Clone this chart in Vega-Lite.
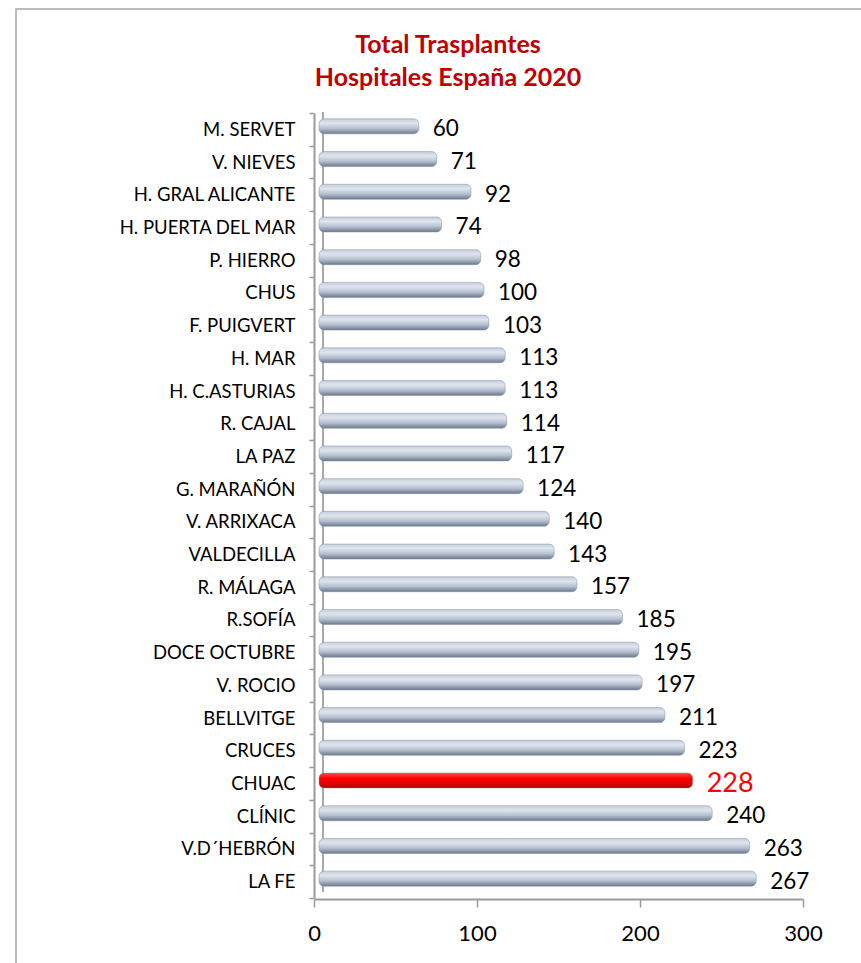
{
  "$schema": "https://vega.github.io/schema/vega-lite/v6.json",
  "autosize": "none",
  "padding": {"left": 16, "top": 9, "right": 0, "bottom": 0},
  "width": 852,
  "height": 962,
  "background": "white",
  "config": {
    "view": {"stroke": "#a6a6a6", "strokeWidth": 1.5},
    "font": "Lato"
  },
  "title": {
    "text": ["Total Trasplantes", "Hospitales España 2020"],
    "color": "#C00000",
    "font": "Lato",
    "fontWeight": "bold",
    "fontSize": 25,
    "lineHeight": 33,
    "anchor": "middle",
    "dx": 6,
    "offset": -91
  },
  "data": {
    "values": [
      {"hospital": "M. SERVET", "total": 60},
      {"hospital": "V. NIEVES", "total": 71},
      {"hospital": "H. GRAL ALICANTE", "total": 92},
      {"hospital": "H. PUERTA DEL MAR", "total": 74},
      {"hospital": "P. HIERRO", "total": 98},
      {"hospital": "CHUS", "total": 100},
      {"hospital": "F. PUIGVERT", "total": 103},
      {"hospital": "H. MAR", "total": 113},
      {"hospital": "H. C.ASTURIAS", "total": 113},
      {"hospital": "R. CAJAL", "total": 114},
      {"hospital": "LA PAZ", "total": 117},
      {"hospital": "G. MARAÑÓN", "total": 124},
      {"hospital": "V. ARRIXACA", "total": 140},
      {"hospital": "VALDECILLA", "total": 143},
      {"hospital": "R. MÁLAGA", "total": 157},
      {"hospital": "R.SOFÍA", "total": 185},
      {"hospital": "DOCE OCTUBRE", "total": 195},
      {"hospital": "V. ROCIO", "total": 197},
      {"hospital": "BELLVITGE", "total": 211},
      {"hospital": "CRUCES", "total": 223},
      {"hospital": "CHUAC", "total": 228},
      {"hospital": "CLÍNIC", "total": 240},
      {"hospital": "V.D´HEBRÓN", "total": 263},
      {"hospital": "LA FE", "total": 267}
    ]
  },
  "encoding": {
    "y": {
      "field": "hospital",
      "type": "nominal",
      "sort": null,
      "scale": {
        "domain": ["M. SERVET", "V. NIEVES", "H. GRAL ALICANTE", "H. PUERTA DEL MAR", "P. HIERRO", "CHUS", "F. PUIGVERT", "H. MAR", "H. C.ASTURIAS", "R. CAJAL", "LA PAZ", "G. MARAÑÓN", "V. ARRIXACA", "VALDECILLA", "R. MÁLAGA", "R.SOFÍA", "DOCE OCTUBRE", "V. ROCIO", "BELLVITGE", "CRUCES", "CHUAC", "CLÍNIC", "V.D´HEBRÓN", "LA FE"],
        "range": [104, 889], "paddingInner": 0, "paddingOuter": 0
      },
      "axis": {
        "title": null,
        "offset": -298,
        "domainColor": "#9a9a9a",
        "domainWidth": 2,
        "tickColor": "#9a9a9a",
        "tickWidth": 1.5,
        "tickSize": 5,
        "tickBand": "extent",
        "labelFont": "Lato",
        "labelFontSize": 18.5,
        "labelColor": "#000000",
        "labelPadding": 14,
        "labelLimit": 300
      }
    },
    "x": {
      "field": "total",
      "type": "quantitative",
      "stack": null,
      "scale": {"domain": [0, 300], "range": [298, 787], "nice": false},
      "axis": {
        "title": null,
        "offset": -72,
        "values": [0, 100, 200, 300],
        "grid": false,
        "labelFlush": false,
        "domainColor": "#9a9a9a",
        "domainWidth": 2,
        "tickColor": "#9a9a9a",
        "tickWidth": 1.5,
        "tickSize": 8,
        "labelFont": "Lato",
        "labelFontSize": 22,
        "labelColor": "#000000",
        "labelPadding": 16
      }
    }
  },
  "layer": [
    {
      "mark": {
        "type": "rule",
        "color": "#a8a8a8",
        "strokeWidth": 1.5,
        "xOffset": 9,
        "yOffset": -1,
        "y2Offset": 10
      },
      "encoding": {
        "x": {"datum": 0, "type": "quantitative"},
        "y": {"datum": "M. SERVET", "type": "nominal", "bandPosition": 0},
        "y2": {"datum": "LA FE"}
      }
    },
    {
      "mark": {
        "type": "bar",
        "height": 15,
        "yOffset": -3,
        "xOffset": 7,
        "x2Offset": 5,
        "cornerRadiusEnd": 5,
        "stroke": "#8090a4",
        "strokeWidth": 0.5
      },
      "encoding": {
        "x2": {"datum": 0},
        "color": {
          "condition": {
            "test": "datum.hospital === 'CHUAC'",
            "value": {
              "gradient": "linear", "x1": 0, "y1": 0, "x2": 0, "y2": 1,
              "stops": [
                {"offset": 0, "color": "#ff4a4a"},
                {"offset": 0.35, "color": "#ff0000"},
                {"offset": 0.75, "color": "#e00000"},
                {"offset": 1, "color": "#a00000"}
              ]
            }
          },
          "value": {
            "gradient": "linear", "x1": 0, "y1": 0, "x2": 0, "y2": 1,
            "stops": [
              {"offset": 0, "color": "#c4cedb"},
              {"offset": 0.3, "color": "#dfe5ee"},
              {"offset": 0.65, "color": "#b4bfcf"},
              {"offset": 1, "color": "#6a788c"}
            ]
          }
        }
      }
    },
    {
      "mark": {"type": "text", "align": "left", "baseline": "middle", "dx": 21, "font": "Lato"},
      "encoding": {
        "text": {"field": "total", "type": "quantitative"},
        "color": {
          "condition": {"test": "datum.hospital === 'CHUAC'", "value": "#ff0000"},
          "value": "#000000"
        },
        "size": {
          "condition": {"test": "datum.hospital === 'CHUAC'", "value": 27},
          "value": 22.5
        }
      }
    }
  ]
}
